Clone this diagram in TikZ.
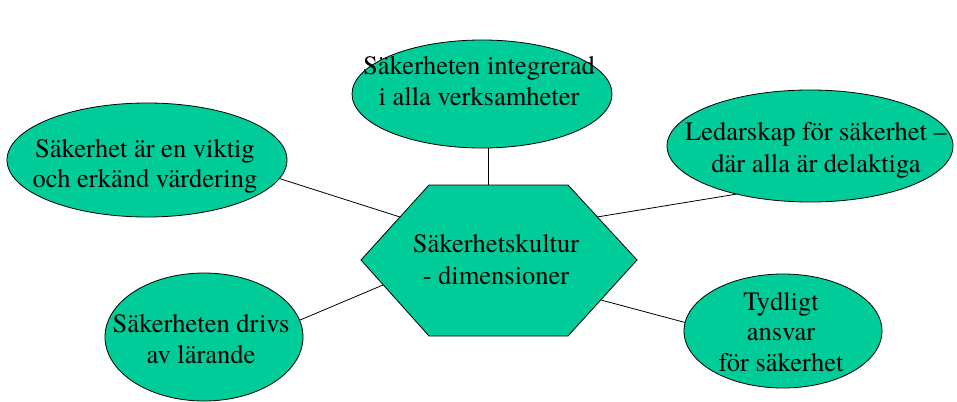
\documentclass[tikz,border=0pt]{standalone}
\usepackage{fontspec}
\setmainfont{TeX Gyre Termes}
\usetikzlibrary{shapes.geometric}
\definecolor{dimfill}{RGB}{0,204,153}
\begin{document}
\begin{tikzpicture}[x=1pt,y=-1pt,
  bubble/.style={ellipse, draw=black, fill=dimfill, line width=0.8pt, inner sep=0pt},
  txt/.style={font=\fontsize{26.5}{30.5}\selectfont, align=center, inner sep=0pt},
  link/.style={draw=black, line width=0.8pt}]
\useasboundingbox (0,0) rectangle (957,401);

% central hexagon
\filldraw[fill=dimfill, draw=black, line width=0.8pt]
  (361,260) -- (429,185) -- (568,185) -- (637,260) -- (568,336) -- (429,336) -- cycle;
\coordinate (htop) at (488,185);
\coordinate (hlt) at (400,217);
\coordinate (hrt) at (597,217);
\coordinate (hlb) at (383,285);
\coordinate (hrb) at (601,300);
\node[txt, font=\fontsize{26.5}{32}\selectfont] (thex) at (496,259.5) {Säkerhetskultur\\ - dimensioner};

% surrounding dimensions
\node[bubble, minimum width=260pt, minimum height=108pt] (tp) at (482,94) {};
\node[bubble, minimum width=280pt, minimum height=114pt] (lt) at (147,160) {};
\node[bubble, minimum width=286pt, minimum height=112pt] (rt) at (810,146) {};
\node[bubble, minimum width=198pt, minimum height=128pt] (lb) at (204,337) {};
\node[bubble, minimum width=198pt, minimum height=114pt] (rb) at (783,331) {};

\node[txt] (ttp) at (479,81) {Säkerheten integrerad\\i alla verksamheter};
\node[txt] (tlt) at (145,166.5) {Säkerhet är en viktig\\och erkänd värdering};
\node[txt, font=\fontsize{26.5}{32}\selectfont] (trt) at (816,150) {Ledarskap för säkerhet –\\där alla är delaktiga};
\node[txt] (tlb) at (201,339) {Säkerheten drivs\\av lärande};
\node[txt] (trb) at (781,332) {Tydligt\\ansvar\\för säkerhet};

% connectors
\draw[link] (tp.south -| htop) -- (htop);
\draw[link] (lt.-8) -- (hlt);
\draw[link] (rt.-147) -- (hrt);
\draw[link] (lb.10) -- (hlb);
\draw[link] (rb.175) -- (hrb);
\end{tikzpicture}
\end{document}
